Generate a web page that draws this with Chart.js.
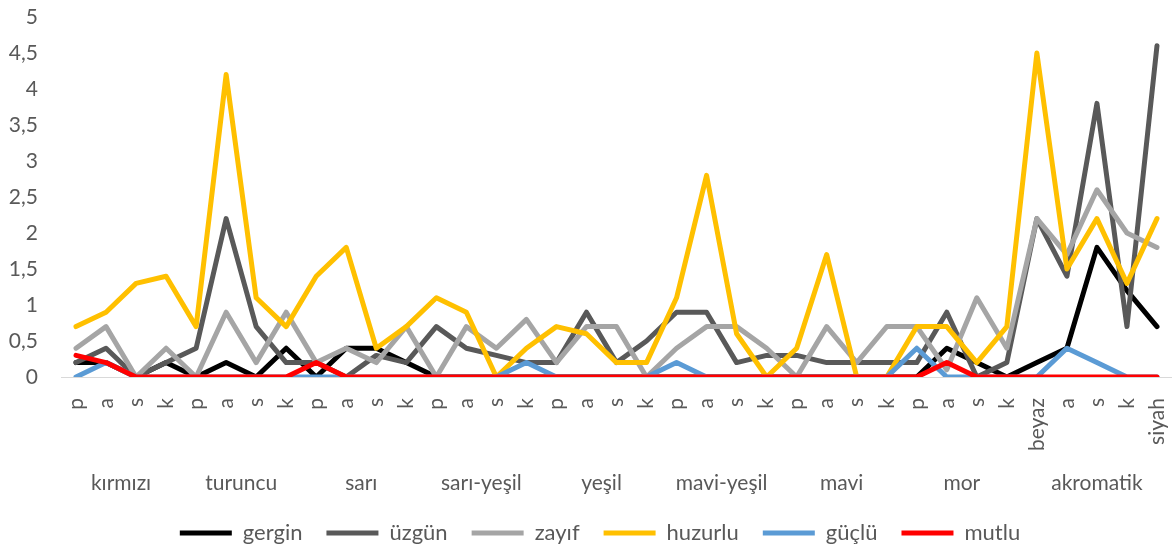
<!DOCTYPE html>
<html>
<head>
<meta charset="utf-8">
<script src="https://cdn.jsdelivr.net/npm/chart.js@4.4.1/dist/chart.umd.min.js"></script>
<style>
  html, body { margin: 0; padding: 0; background: #fff; }
  #wrap { width: 1172px; height: 548px; }
</style>
</head>
<body>
<div id="wrap"><canvas id="lineChart"></canvas></div>
<script>
// categories
const pointLabels = ["p", "a", "s", "k", "p", "a", "s", "k", "p", "a", "s", "k", "p", "a", "s", "k",
  "p", "a", "s", "k", "p", "a", "s", "k", "p", "a", "s", "k", "p", "a", "s", "k",
  "beyaz", "a", "s", "k", "siyah"];
const groupNames = ["kırmızı", "turuncu", "sarı", "sarı-yeşil", "yeşil", "mavi-yeşil", "mavi", "mor", "akromatik"];
const groupSizes = [4, 4, 4, 4, 4, 4, 4, 4, 5];
const yTicks = [0, 0.5, 1, 1.5, 2, 2.5, 3, 3.5, 4, 4.5, 5];

// series
const gergin = [0.2, 0.2, 0, 0.2, 0, 0.2, 0, 0.4, 0, 0.4, 0.4, 0.2, 0, 0, 0, 0,
  0, 0, 0, 0, 0, 0, 0, 0, 0, 0, 0, 0, 0, 0.4, 0.2, 0, 0.2, 0.4, 1.8, 1.2, 0.7];
const uzgun = [0.2, 0.4, 0, 0.2, 0.4, 2.2, 0.7, 0.2, 0.2, 0, 0.3, 0.2, 0.7, 0.4, 0.3, 0.2,
  0.2, 0.9, 0.2, 0.5, 0.9, 0.9, 0.2, 0.3, 0.3, 0.2, 0.2, 0.2, 0.2, 0.9, 0, 0.2, 2.2, 1.4, 3.8, 0.7, 4.6];
const zayif = [0.4, 0.7, 0, 0.4, 0, 0.9, 0.2, 0.9, 0.2, 0.4, 0.2, 0.7, 0, 0.7, 0.4, 0.8,
  0.2, 0.7, 0.7, 0, 0.4, 0.7, 0.7, 0.4, 0, 0.7, 0.2, 0.7, 0.7, 0.1, 1.1, 0.4, 2.2, 1.7, 2.6, 2.0, 1.8];
const huzurlu = [0.7, 0.9, 1.3, 1.4, 0.7, 4.2, 1.1, 0.7, 1.4, 1.8, 0.4, 0.7, 1.1, 0.9, 0, 0.4,
  0.7, 0.6, 0.2, 0.2, 1.1, 2.8, 0.6, 0, 0.4, 1.7, 0, 0, 0.7, 0.7, 0.2, 0.7, 4.5, 1.5, 2.2, 1.3, 2.2];
const guclu = [0, 0.2, 0, 0, 0, 0, 0, 0, 0, 0, 0, 0, 0, 0, 0, 0.2,
  0, 0, 0, 0, 0.2, 0, 0, 0, 0, 0, 0, 0, 0.4, 0, 0, 0, 0, 0.4, 0.2, 0, 0];
const mutlu = [0.3, 0.2, 0, 0, 0, 0, 0, 0, 0.2, 0, 0, 0, 0, 0, 0, 0,
  0, 0, 0, 0, 0, 0, 0, 0, 0, 0, 0, 0, 0, 0.2, 0, 0, 0, 0, 0, 0, 0];

const seriesNames = ["gergin", "üzgün", "zayıf", "huzurlu", "güçlü", "mutlu"];
const seriesData = [gergin, uzgun, zayif, huzurlu, guclu, mutlu];
const seriesColors = ["#000000", "#595959", "#a5a5a5", "#ffc000", "#5b9bd5", "#ff0000"];

// centre index of every group, for the second label row
const groupCenters = [];
let start = 0;
groupSizes.forEach(function(n) {
  groupCenters.push(start + (n - 1) / 2);
  start += n;
});

const textColor = "#595959";
const font = { family: "Lato", size: 21 };

const datasets = seriesNames.map(function(name, i) {
  return {
    label: name,
    data: seriesData[i],
    borderColor: seriesColors[i],
    backgroundColor: seriesColors[i],
    borderWidth: 5,
    borderCapStyle: "round",
    borderJoinStyle: "round",
    pointRadius: 0,
    tension: 0,
    order: seriesNames.length - i  // later series drawn on top, like Excel
  };
});

// nudge the legend a little to the right, as in the original
const legendShift = {
  id: "legendShift",
  afterLayout: function(chart) {
    chart.legend.left += 14;
    chart.legend.right += 14;
  }
};

const ctx = document.getElementById("lineChart").getContext("2d");
new Chart(ctx, {
  type: "line",
  data: { labels: pointLabels, datasets: datasets },
  plugins: [legendShift],
  options: {
    responsive: true,
    maintainAspectRatio: false,
    animation: false,
    layout: { padding: { top: 17, right: 0, bottom: -6, left: 0 } },
    plugins: {
      tooltip: { enabled: false },
      legend: {
        position: "bottom",
        labels: {
          color: textColor,
          font: { family: "Lato", size: 22 },
          usePointStyle: true,
          pointStyle: "line",
          pointStyleWidth: 52,
          padding: 24,
          sort: function(a, b) { return a.datasetIndex - b.datasetIndex; }
        }
      }
    },
    scales: {
      x: {
        type: "category",
        position: "bottom",
        weight: 0,
        offset: true,
        grid: { display: false, drawTicks: false },
        border: { display: true, color: "#d9d9d9", width: 1 },
        ticks: {
          color: textColor,
          font: font,
          autoSkip: false,
          minRotation: 90,
          maxRotation: 90,
          padding: 21
        },
        afterFit: function(axis) {
          axis.height = 80;
          axis.paddingLeft = 0;
          axis.paddingRight = 0;
        }
      },
      x2: {
        type: "linear",
        position: "bottom",
        weight: 1,
        min: -0.5,
        max: pointLabels.length - 0.5,
        grid: { display: false, drawTicks: false },
        border: { display: false },
        ticks: {
          color: textColor,
          font: font,
          autoSkip: false,
          maxRotation: 0,
          padding: 14,
          callback: function(value) {
            const idx = groupCenters.indexOf(value);
            return idx >= 0 ? groupNames[idx] : "";
          }
        },
        afterBuildTicks: function(axis) {
          axis.ticks = groupCenters.map(function(v) { return { value: v }; });
        },
        afterFit: function(axis) {
          axis.height = 41;
          axis.paddingLeft = 0;
          axis.paddingRight = 0;
        }
      },
      y: {
        min: yTicks[0],
        max: yTicks[yTicks.length - 1],
        grid: { display: false, drawTicks: false },
        border: { display: false },
        ticks: {
          color: textColor,
          font: font,
          padding: 23,
          stepSize: yTicks[1] - yTicks[0],
          callback: function(value) { return String(value).replace(".", ","); }
        },
        afterFit: function(axis) {
          axis.width = 61;
          axis.paddingTop = 0;
          axis.paddingBottom = 0;
        }
      }
    }
  }
});
</script>
</body>
</html>
